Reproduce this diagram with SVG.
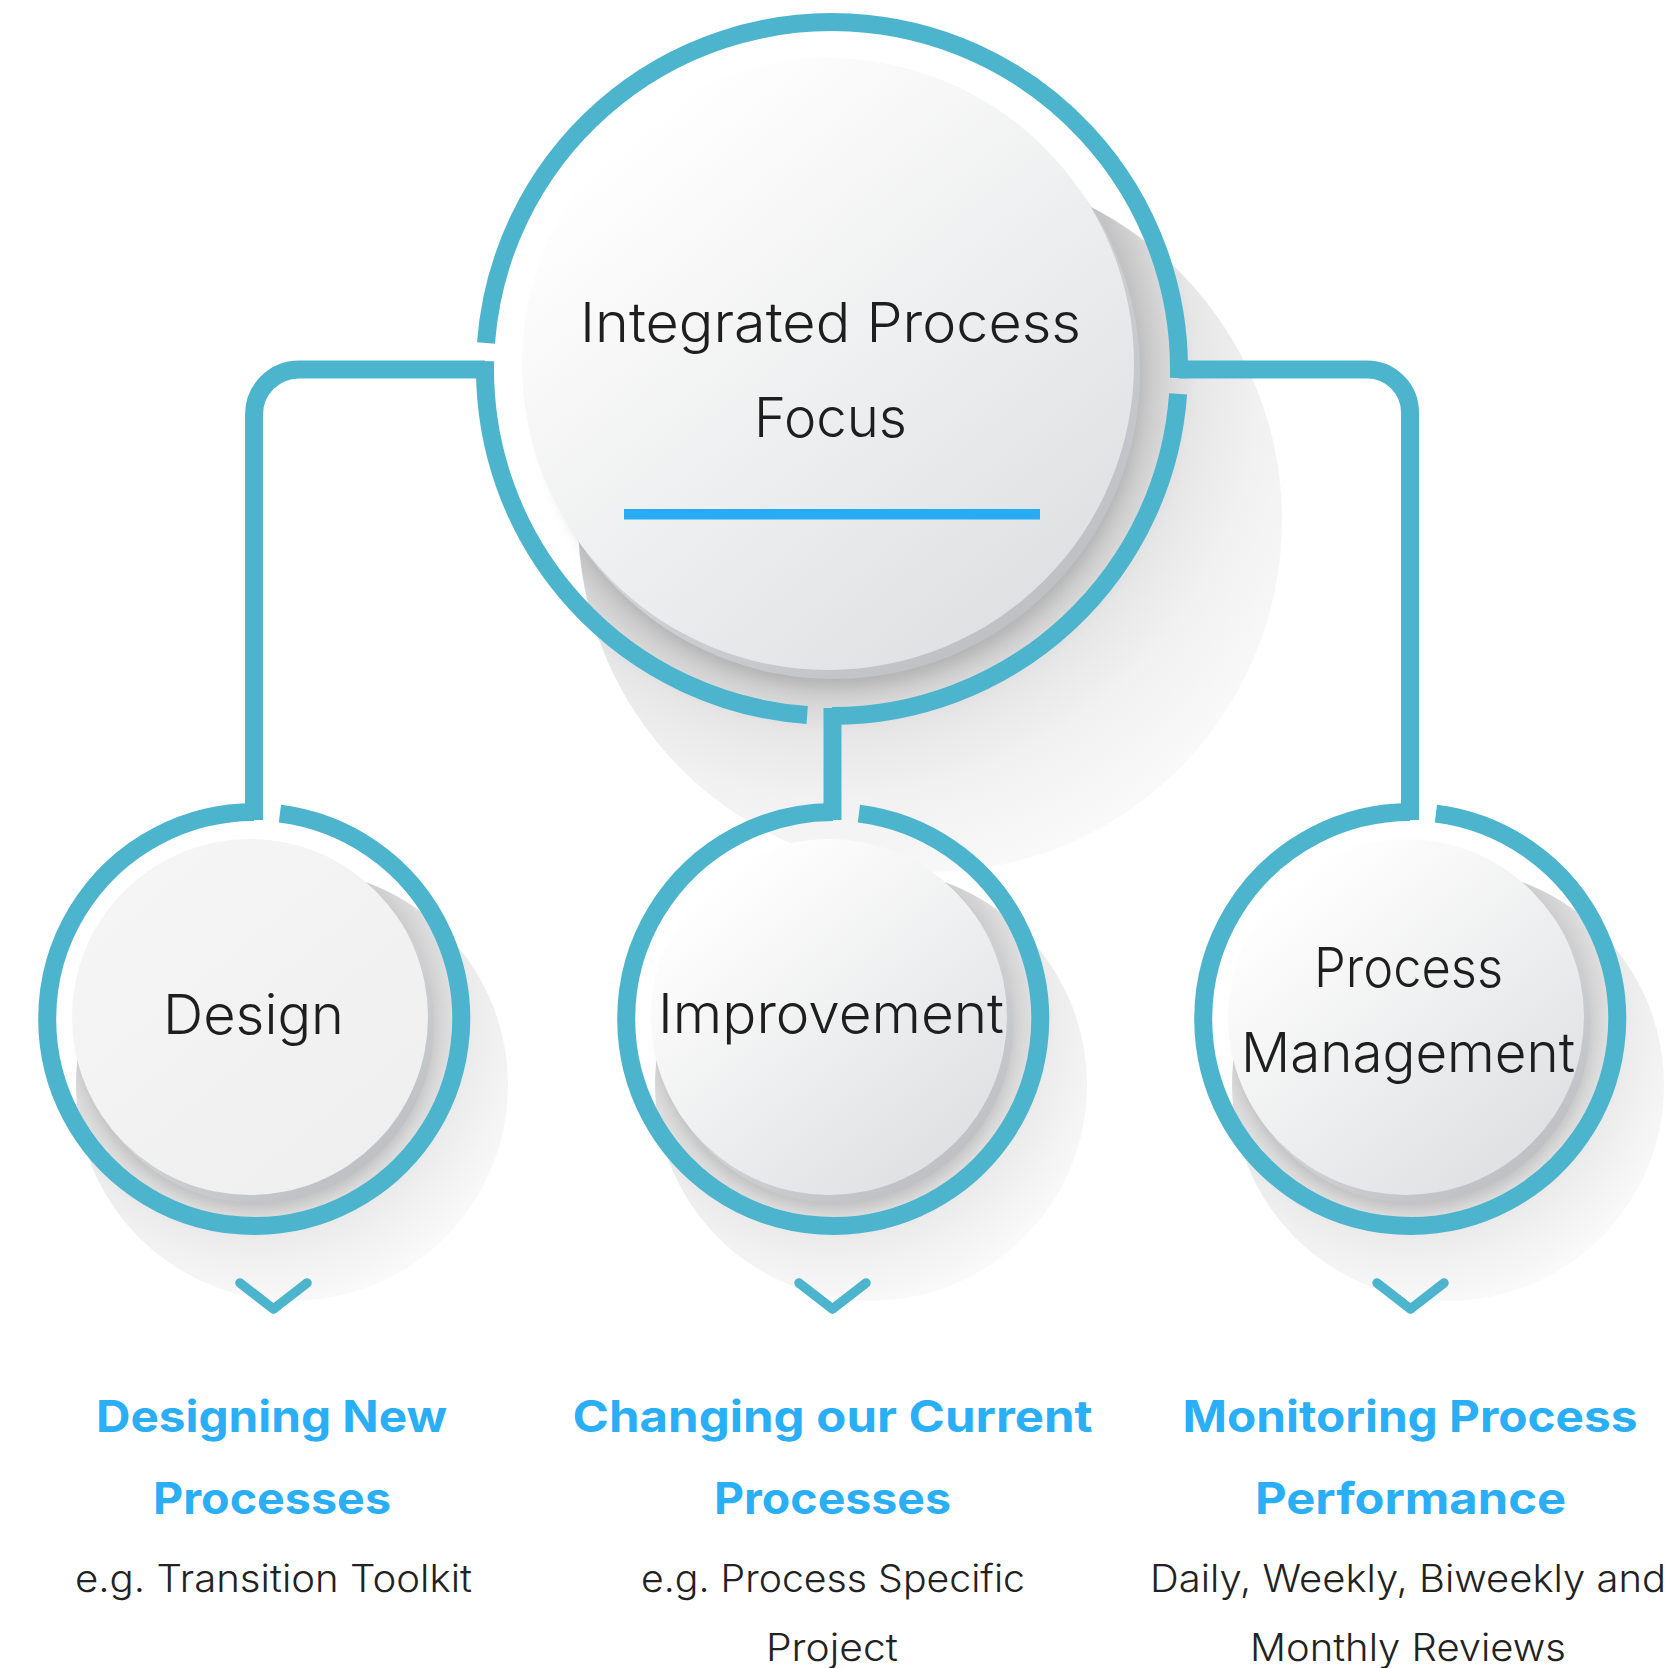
<svg xmlns="http://www.w3.org/2000/svg" width="1678" height="1668" viewBox="0 0 1678 1668">
<defs>
<style>
.ring{fill:none;stroke:#4cb5cd;stroke-width:18}
.conn{fill:none;stroke:#4cb5cd;stroke-width:18}
.chev{fill:none;stroke:#4cb5cd;stroke-width:9.5;stroke-linecap:round;stroke-linejoin:round}
.lbl{font-family:Inter,'Liberation Sans',sans-serif;font-size:55px;font-weight:300;fill:#1e1e1e;text-anchor:middle}
.ttl{font-family:Inter,'Liberation Sans',sans-serif;font-weight:700;font-size:44px;fill:#2aaef5;text-anchor:middle}
.sub{font-family:Inter,'Liberation Sans',sans-serif;font-size:38px;font-weight:300;fill:#222222;text-anchor:middle}
</style>
<radialGradient id="shBig" cx="0.361" cy="0.286" r="0.8">
<stop offset="0.55" stop-color="#c4c4c4"/>
<stop offset="0.6" stop-color="#d8d8d8"/>
<stop offset="0.65" stop-color="#e7e7e7"/>
<stop offset="0.76" stop-color="#f1f1f1"/>
<stop offset="1" stop-color="#fcfcfc"/>
</radialGradient>
<radialGradient id="shSm" cx="0.412" cy="0.347" r="0.7">
<stop offset="0.55" stop-color="#c6c6c6"/>
<stop offset="0.65" stop-color="#dddddd"/>
<stop offset="0.73" stop-color="#ececec"/>
<stop offset="0.86" stop-color="#f4f4f4"/>
<stop offset="1" stop-color="#fcfcfc"/>
</radialGradient>
<linearGradient id="face" x1="0.2" y1="0.1" x2="0.85" y2="0.9">
<stop offset="0" stop-color="#ffffff"/>
<stop offset="1" stop-color="#dfe0e2"/>
</linearGradient>
<linearGradient id="faceFlat" x1="0.2" y1="0.1" x2="0.85" y2="0.9">
<stop offset="0" stop-color="#f5f5f5"/>
<stop offset="1" stop-color="#efefef"/>
</linearGradient>
<linearGradient id="rim" x1="0.2" y1="0.1" x2="0.85" y2="0.9">
<stop offset="0" stop-color="#e8e9eb"/>
<stop offset="1" stop-color="#bebfc2"/>
</linearGradient>
<filter id="blur" x="-20%" y="-20%" width="140%" height="140%">
<feGaussianBlur stdDeviation="7"/>
</filter>
</defs>
<rect width="1678" height="1668" fill="#ffffff"/>

<g id="node-focus">
<circle cx="930" cy="520" r="352" fill="url(#shBig)"/>
<circle cx="838" cy="388" r="300" fill="#808080" opacity="0.22" filter="url(#blur)"/>
<circle cx="834" cy="373" r="306" fill="url(#rim)"/>
<circle cx="828" cy="364" r="306" fill="url(#face)"/>
<path class="ring" d="M1178.9,378.1 A347,347 0 0 0 486.0,343.0"/>
<path class="ring" d="M1178.1,393.8 A347,347 0 0 1 832,716"/>
<path class="ring" d="M807.2,715.1 A347,347 0 0 1 485.1,361.1"/>
<text class="lbl" x="830.5" y="342" textLength="501" lengthAdjust="spacingAndGlyphs">Integrated Process</text>
<text class="lbl" x="830.5" y="437" textLength="153" lengthAdjust="spacingAndGlyphs">Focus</text>
<rect x="624" y="509" width="416" height="10.5" fill="#27abf5"/>
</g>

<g id="node-design">
<circle cx="292" cy="1085" r="216" fill="url(#shSm)"/>
<circle cx="256" cy="1036" r="174" fill="#808080" opacity="0.22" filter="url(#blur)"/>
<circle cx="256" cy="1025" r="178" fill="url(#rim)"/>
<circle cx="250" cy="1017" r="178" fill="url(#faceFlat)"/>
<path class="ring" d="M279.9,813.6 A207,207 0 1 1 254,812"/>
<text class="lbl" x="253.5" y="1034" textLength="181" lengthAdjust="spacingAndGlyphs">Design</text>
</g>

<g id="node-improvement">
<circle cx="871" cy="1085" r="216" fill="url(#shSm)"/>
<circle cx="835" cy="1036" r="174" fill="#808080" opacity="0.22" filter="url(#blur)"/>
<circle cx="835" cy="1025" r="178" fill="url(#rim)"/>
<circle cx="829" cy="1017" r="178" fill="url(#face)"/>
<path class="ring" d="M858.9,813.6 A207,207 0 1 1 833,812"/>
<text class="lbl" x="831" y="1033" textLength="346" lengthAdjust="spacingAndGlyphs">Improvement</text>
</g>

<g id="node-management">
<circle cx="1448" cy="1085" r="216" fill="url(#shSm)"/>
<circle cx="1412" cy="1036" r="174" fill="#808080" opacity="0.22" filter="url(#blur)"/>
<circle cx="1412" cy="1025" r="178" fill="url(#rim)"/>
<circle cx="1406" cy="1017" r="178" fill="url(#face)"/>
<path class="ring" d="M1435.9,813.6 A207,207 0 1 1 1410,812"/>
<text class="lbl" x="1408.5" y="987" textLength="189" lengthAdjust="spacingAndGlyphs">Process</text>
<text class="lbl" x="1408" y="1072" textLength="334" lengthAdjust="spacingAndGlyphs">Management</text>
</g>

<g id="connectors">
<path class="conn" d="M485,369.5 H299 A45,45 0 0 0 254,414.5 V820"/>
<path class="conn" d="M1179,369.5 H1367 A43,43 0 0 1 1410,412.5 V820"/>
<path class="conn" d="M832.5,708 V820"/>
<path class="chev" d="M240,1283 L273.5,1309 L307,1283"/>
<path class="chev" d="M799,1283 L832.5,1309 L866,1283"/>
<path class="chev" d="M1377,1283 L1410.5,1309 L1444,1283"/>
</g>

<g id="col-design">
<text class="ttl" x="271.5" y="1432" textLength="351" lengthAdjust="spacingAndGlyphs">Designing New</text>
<text class="ttl" x="272" y="1514" textLength="238" lengthAdjust="spacingAndGlyphs">Processes</text>
<text class="sub" x="273.5" y="1592" textLength="397" lengthAdjust="spacingAndGlyphs">e.g. Transition Toolkit</text>
</g>
<g id="col-improvement">
<text class="ttl" x="832.6" y="1432" textLength="520" lengthAdjust="spacingAndGlyphs">Changing our Current</text>
<text class="ttl" x="832.5" y="1514" textLength="237" lengthAdjust="spacingAndGlyphs">Processes</text>
<text class="sub" x="833" y="1592" textLength="384" lengthAdjust="spacingAndGlyphs">e.g. Process Specific</text>
<text class="sub" x="832" y="1661" textLength="132" lengthAdjust="spacingAndGlyphs">Project</text>
</g>
<g id="col-management">
<text class="ttl" x="1410" y="1432" textLength="455" lengthAdjust="spacingAndGlyphs">Monitoring Process</text>
<text class="ttl" x="1410.5" y="1514" textLength="311" lengthAdjust="spacingAndGlyphs">Performance</text>
<text class="sub" x="1408" y="1592" textLength="516" lengthAdjust="spacingAndGlyphs">Daily, Weekly, Biweekly and</text>
<text class="sub" x="1408" y="1661" textLength="316" lengthAdjust="spacingAndGlyphs">Monthly Reviews</text>
</g>
</svg>
